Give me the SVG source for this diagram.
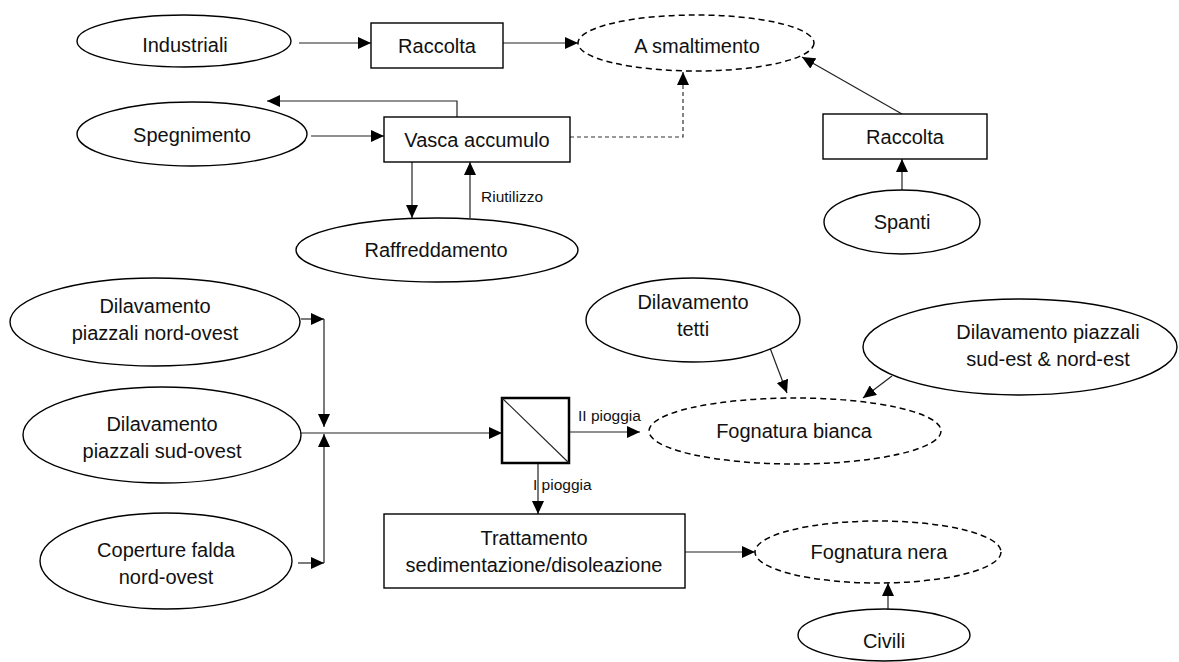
<svg xmlns="http://www.w3.org/2000/svg" width="1179" height="662" viewBox="0 0 1179 662">
<style>
.n{fill:#fff;stroke:#000;stroke-width:1.4}
.d{fill:#fff;stroke:#000;stroke-width:1.5;stroke-dasharray:6 4}
text{font-family:"Liberation Sans",Arial,sans-serif;font-size:20px;fill:#111;text-anchor:middle}
.s{font-size:15.5px;text-anchor:start}
.c{fill:none;stroke:#222;stroke-width:1.2;marker-end:url(#a)}
.cd{fill:none;stroke:#333;stroke-width:1.2;stroke-dasharray:4 3;marker-end:url(#a)}
</style>
<defs>
<marker id="a" markerUnits="userSpaceOnUse" markerWidth="13" markerHeight="12" refX="13" refY="6" orient="auto">
<path d="M0,0 L13,6 L0,12 z" fill="#000"/>
</marker>
</defs>
<rect width="1179" height="662" fill="#fff"/>
<g id="connectors">
<path class="c" d="M299,43 H371"/>
<path class="c" d="M503,43 H578"/>
<path class="c" d="M311,136 H384"/>
<path class="c" d="M457,117 V101 H267"/>
<path class="c" d="M412,162 V218"/>
<path class="c" d="M470,218 V162"/>
<path class="cd" d="M570,137 H683 V72"/>
<path class="c" d="M902,114 L802,57"/>
<path class="c" d="M902,190 V159"/>
<path class="c" d="M301,319 H324"/>
<path class="c" d="M324,319 V427"/>
<path class="c" d="M298,563 H324"/>
<path class="c" d="M324,563 V434"/>
<path class="c" d="M301,433 H502"/>
<path class="c" d="M569,432 H640"/>
<path class="c" d="M538,463 V514"/>
<path class="c" d="M770,348 L787,393"/>
<path class="c" d="M892,376 L863,398"/>
<path class="c" d="M685,552 H755"/>
<path class="c" d="M888,609 V583"/>
<text class="s" x="481" y="202">Riutilizzo</text>
<text class="s" x="578" y="421">II pioggia</text>
<text class="s" x="533" y="490">I pioggia</text>
</g>
<g id="industriali"><ellipse class="n" cx="184" cy="41" rx="107" ry="26"/><text x="185" y="52">Industriali</text></g>
<g id="raccolta1"><rect class="n" x="371" y="23" width="132" height="45"/><text x="437" y="53">Raccolta</text></g>
<g id="smaltimento"><ellipse class="d" cx="696" cy="43" rx="118" ry="28"/><text x="697" y="53">A smaltimento</text></g>
<g id="spegnimento"><ellipse class="n" cx="192" cy="134" rx="115" ry="32"/><text x="192" y="142">Spegnimento</text></g>
<g id="vasca"><rect class="n" x="384" y="117" width="186" height="45"/><text x="477" y="147">Vasca accumulo</text></g>
<g id="raffreddamento"><ellipse class="n" cx="437" cy="250" rx="141" ry="32"/><text x="436" y="257">Raffreddamento</text></g>
<g id="raccolta2"><rect class="n" x="823" y="114" width="164" height="45"/><text x="905" y="144">Raccolta</text></g>
<g id="spanti"><ellipse class="n" cx="902" cy="222" rx="78" ry="32"/><text x="902" y="229">Spanti</text></g>
<g id="dil-no"><ellipse class="n" cx="155" cy="322" rx="145" ry="44"/><text x="155" y="313">Dilavamento</text><text x="155" y="340">piazzali nord-ovest</text></g>
<g id="dil-so"><ellipse class="n" cx="162" cy="435" rx="139" ry="48"/><text x="162" y="431">Dilavamento</text><text x="162" y="458">piazzali sud-ovest</text></g>
<g id="coperture"><ellipse class="n" cx="166" cy="561" rx="126" ry="48"/><text x="166" y="557">Coperture falda</text><text x="166" y="584">nord-ovest</text></g>
<g id="separatore"><rect x="502" y="398" width="67" height="65" fill="#fff" stroke="#000" stroke-width="2.5"/><path d="M502,398 L569,463" stroke="#222" stroke-width="1.1"/></g>
<g id="trattamento"><rect class="n" x="384" y="514" width="301" height="74"/><text x="534" y="545">Trattamento</text><text x="534" y="572">sedimentazione/disoleazione</text></g>
<g id="tetti"><ellipse class="n" cx="693" cy="320" rx="107" ry="42"/><text x="693" y="309">Dilavamento</text><text x="693" y="336">tetti</text></g>
<g id="dil-se"><ellipse class="n" cx="1020" cy="347" rx="157" ry="48"/><text x="1048" y="339">Dilavamento piazzali</text><text x="1048" y="366">sud-est &amp; nord-est</text></g>
<g id="bianca"><ellipse class="d" cx="795" cy="431" rx="146" ry="33"/><text x="794" y="438">Fognatura bianca</text></g>
<g id="nera"><ellipse class="d" cx="878" cy="552" rx="123" ry="31"/><text x="879" y="559">Fognatura nera</text></g>
<g id="civili"><ellipse class="n" cx="884" cy="635" rx="86" ry="26"/><text x="884" y="648">Civili</text></g>
</svg>
